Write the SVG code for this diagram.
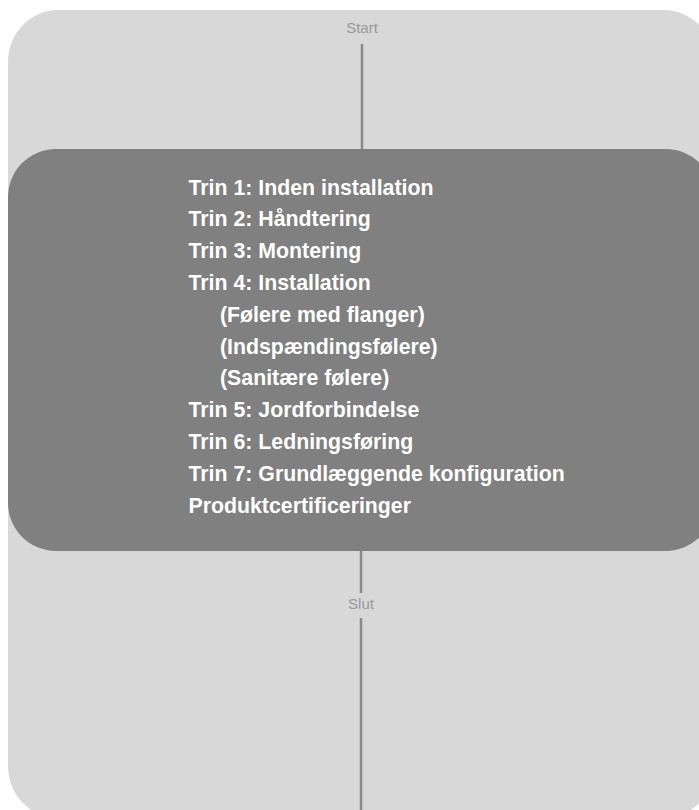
<svg xmlns="http://www.w3.org/2000/svg" width="699" height="810" viewBox="0 0 699 810">
<style>
.bg{fill:#ffffff}
.outer{fill:#d8d8d8}
.inner{fill:#808080}
.conn{stroke:#8a8a8a;stroke-width:2.5;fill:none}
.lbl{font-family:"Liberation Sans",Arial,sans-serif;font-size:15px;fill:#999999;text-anchor:middle}
.item{font-family:"Liberation Sans",Arial,sans-serif;font-size:21.3px;font-weight:bold;fill:#ffffff}
</style>
<rect class="bg" x="0" y="0" width="699" height="810"/>
<g id="container">
<rect class="outer" x="8" y="10" width="706" height="808" rx="50" ry="52"/>
</g>
<g id="connectors">
<line class="conn" x1="362" y1="44" x2="362" y2="150"/>
<line class="conn" x1="361" y1="550" x2="361" y2="593"/>
<line class="conn" x1="361" y1="618" x2="361" y2="820"/>
</g>
<g id="start">
<text class="lbl" x="362" y="33">Start</text>
</g>
<g id="steps">
<rect class="inner" x="8" y="149" width="706" height="402" rx="48" ry="48"/>
<text class="item" x="188.5" y="194.5">Trin 1: Inden installation</text>
<text class="item" x="188.5" y="226.3">Trin 2: Håndtering</text>
<text class="item" x="188.5" y="258.1">Trin 3: Montering</text>
<text class="item" x="188.5" y="289.9">Trin 4: Installation</text>
<text class="item" x="220" y="321.7">(Følere med flanger)</text>
<text class="item" x="220" y="353.5">(Indspændingsfølere)</text>
<text class="item" x="220" y="385.3">(Sanitære følere)</text>
<text class="item" x="188.5" y="417.1">Trin 5: Jordforbindelse</text>
<text class="item" x="188.5" y="448.9">Trin 6: Ledningsføring</text>
<text class="item" x="188.5" y="480.7">Trin 7: Grundlæggende konfiguration</text>
<text class="item" x="188.5" y="512.5">Produktcertificeringer</text>
</g>
<g id="end">
<text class="lbl" x="361" y="609">Slut</text>
</g>
</svg>
